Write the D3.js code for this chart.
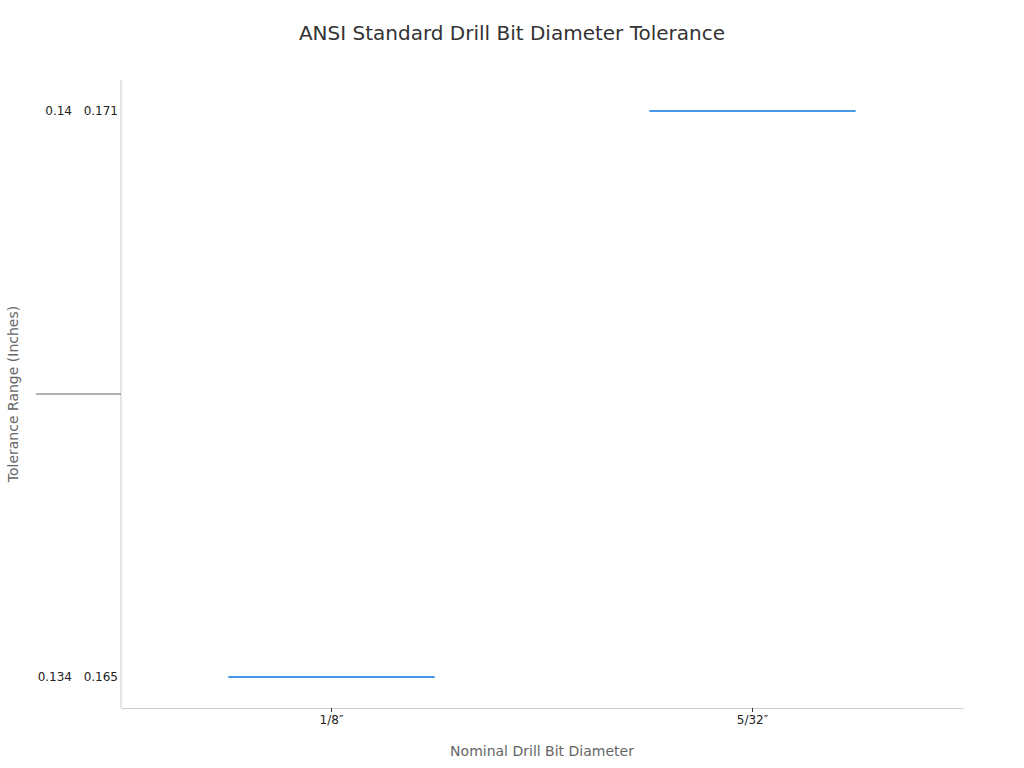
<!DOCTYPE html>
<html>
<head>
<meta charset="utf-8">
<script src="https://cdn.jsdelivr.net/npm/d3@7"></script>
<style>
  body { margin: 0; background: #fff; font-family: "DejaVu Sans", sans-serif; }
</style>
</head>
<body>
<svg id="chart" width="1024" height="768"></svg>
<script>
// chart data
const sizes = ['1/8\u2033', '5/32\u2033'];
const lowerBound = [0.134, 0.14];
const upperBound = [0.165, 0.171];

const svg = d3.select('#chart');
const margin = { top: 80, right: 61, bottom: 60, left: 121 };
const width = 1024 - margin.left - margin.right;
const height = 768 - margin.top - margin.bottom;

const rows = sizes.map((s, i) => ({ size: s, lo: lowerBound[i], hi: upperBound[i], key: lowerBound[i] + '|' + upperBound[i] }));

const x = d3.scaleBand().domain(sizes).range([0, width]).padding(0);
const y = d3.scalePoint().domain(rows.map(d => d.key).reverse()).range([0, height]).padding(0.055);

const g = svg.append('g').attr('transform', `translate(${margin.left},${margin.top})`);

// title
svg.append('text')
  .attr('x', 512).attr('y', 40)
  .attr('text-anchor', 'middle')
  .attr('font-size', 20)
  .attr('fill', '#333')
  .text('ANSI Standard Drill Bit Diameter Tolerance');

// x axis
const xAxis = g.append('g')
  .attr('transform', `translate(0,${height})`)
  .call(d3.axisBottom(x).tickSizeInner(4).tickSizeOuter(0).tickPadding(3));
xAxis.select('.domain').attr('stroke', '#ccc');
xAxis.selectAll('.tick line').attr('stroke', '#333');
xAxis.selectAll('.tick text').attr('font-size', 12).attr('fill', '#222')
  .attr('font-family', '"DejaVu Sans", sans-serif');

// y axis (labels built by hand, two parts each)
g.append('line')
  .attr('x1', 0).attr('x2', 0).attr('y1', 0).attr('y2', height)
  .attr('stroke', '#ccc');

const yTicks = g.append('g').selectAll('g')
  .data(rows)
  .join('g')
  .attr('transform', d => `translate(0,${y(d.key)})`);
yTicks.append('text')
  .attr('x', -49).attr('dy', '0.35em')
  .attr('text-anchor', 'end')
  .attr('font-size', 12).attr('fill', '#222')
  .text(d => d.lo);
yTicks.append('text')
  .attr('x', -3).attr('dy', '0.35em')
  .attr('text-anchor', 'end')
  .attr('font-size', 12).attr('fill', '#222')
  .text(d => d.hi);

// stray mid marker on y axis
g.append('line')
  .attr('x1', -85).attr('x2', 0)
  .attr('y1', height / 2).attr('y2', height / 2)
  .attr('stroke', '#999').attr('stroke-width', 1.5);

// range lines
const half = x.bandwidth() * 0.245;
g.append('g').selectAll('line')
  .data(rows)
  .join('line')
  .attr('x1', d => x(d.size) + x.bandwidth() / 2 - half)
  .attr('x2', d => x(d.size) + x.bandwidth() / 2 + half)
  .attr('y1', d => y(d.key))
  .attr('y2', d => y(d.key))
  .attr('stroke', '#4597e8')
  .attr('stroke-width', 2);

// axis titles
svg.append('text')
  .attr('x', margin.left + width / 2).attr('y', 756)
  .attr('text-anchor', 'middle')
  .attr('font-size', 14).attr('fill', '#666')
  .text('Nominal Drill Bit Diameter');

svg.append('text')
  .attr('transform', `translate(18,${margin.top + height / 2}) rotate(-90)`)
  .attr('text-anchor', 'middle')
  .attr('font-size', 14).attr('fill', '#666')
  .text('Tolerance Range (Inches)');
</script>
</body>
</html>
